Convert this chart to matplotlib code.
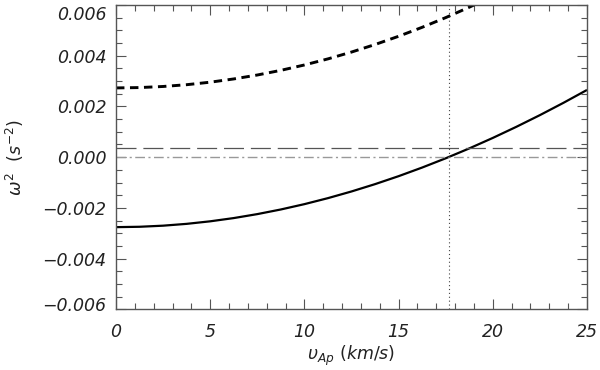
import matplotlib
matplotlib.use("Agg")
import matplotlib.pyplot as plt
import matplotlib.transforms as mtrans
from matplotlib.ticker import MultipleLocator, FuncFormatter

# Data
v_solid = [0, 1.25, 2.5, 3.75, 5, 6.25, 7.5, 8.75, 10, 11.25, 12.5,
           13.75, 15, 16.25, 17.5, 18.75, 20, 21.25, 22.5, 23.75, 25]
w2_solid = [-2.760e-3, -2.745e-3, -2.702e-3, -2.630e-3, -2.530e-3, -2.402e-3,
            -2.246e-3, -2.063e-3, -1.853e-3, -1.616e-3, -1.353e-3, -1.064e-3,
            -0.750e-3, -0.410e-3, -0.045e-3, 0.344e-3, 0.758e-3, 1.196e-3,
            1.657e-3, 2.142e-3, 2.650e-3]
v_dashed = [0, 1.25, 2.5, 3.75, 5, 6.25, 7.5, 8.75, 10, 11.25, 12.5,
            13.75, 15, 16.25, 17.5, 18.75, 20]
w2_dashed = [2.730e-3, 2.744e-3, 2.787e-3, 2.857e-3, 2.956e-3, 3.084e-3,
             3.239e-3, 3.423e-3, 3.635e-3, 3.875e-3, 4.144e-3, 4.441e-3,
             4.766e-3, 5.120e-3, 5.502e-3, 5.912e-3, 6.350e-3]
h_line = 0.37e-3
zero_line = 0.0
v_cut = 17.65

plt.rcParams['mathtext.fontset'] = 'dejavusans'
plt.rcParams['font.family'] = ['DejaVu Sans']

fig = plt.figure(figsize=(6, 3.7), dpi=100)
ax = fig.add_axes([0.1933, 0.164, 0.785, 0.8225])

ax.plot(v_solid, w2_solid, color='black', lw=1.6, solid_capstyle='butt')
ax.plot(v_dashed, w2_dashed, color='black', lw=2.1, linestyle=(0, (2.9, 1.9)))
ax.axhline(h_line, color='#555555', lw=0.9, linestyle=(0, (16, 5.5)))
ax.axhline(zero_line, color='#999999', lw=1.0, linestyle=(0, (7, 2.5, 1.5, 2.5)))
ax.axvline(v_cut, color='#444444', lw=0.8, linestyle=(0, (1, 2.5)))

ax.set_xlim(0, 25)
ax.set_ylim(-0.006, 0.006)
ax.xaxis.set_major_locator(MultipleLocator(5))
ax.xaxis.set_minor_locator(MultipleLocator(1))
ax.yaxis.set_major_locator(MultipleLocator(0.002))
ax.yaxis.set_minor_locator(MultipleLocator(0.0005))
ax.yaxis.set_major_formatter(FuncFormatter(lambda y, p: ('%.3f' % y).replace('-', '\u2212')))

for s in ax.spines.values():
    s.set_color('#555555')
    s.set_linewidth(1.0)

ax.tick_params(which='both', direction='in', top=True, right=True,
               color='#555555', width=0.8)
ax.tick_params(which='major', length=7)
ax.tick_params(which='minor', length=4)
ax.tick_params(axis='x', which='major', pad=10, labelsize=12.5, labelcolor='#222222')
ax.tick_params(axis='y', which='major', pad=7, labelsize=12.5, labelcolor='#222222')

fig.canvas.draw()
for lab in ax.get_xticklabels() + ax.get_yticklabels():
    lab.set_fontstyle('italic')
    lab.set_fontweight('light')

ylabs = ax.get_yticklabels()
locs = ax.get_yticks()
for lab, loc in zip(ylabs, locs):
    if abs(loc - 0.006) < 1e-9:
        lab.set_transform(lab.get_transform() + mtrans.ScaledTranslation(0, -8 / 100, fig.dpi_scale_trans))
    elif abs(loc + 0.006) < 1e-9:
        lab.set_transform(lab.get_transform() + mtrans.ScaledTranslation(0, 5 / 100, fig.dpi_scale_trans))

ax.set_xlabel(r'$\upsilon_{Ap}\ (km/s)$', fontsize=12.5, color='#222222', labelpad=2)
ax.set_ylabel(r'$\omega^{2}\ \ (s^{-2})$', fontsize=12.5, color='#222222', labelpad=12)

fig.savefig('out.png', dpi=100)
